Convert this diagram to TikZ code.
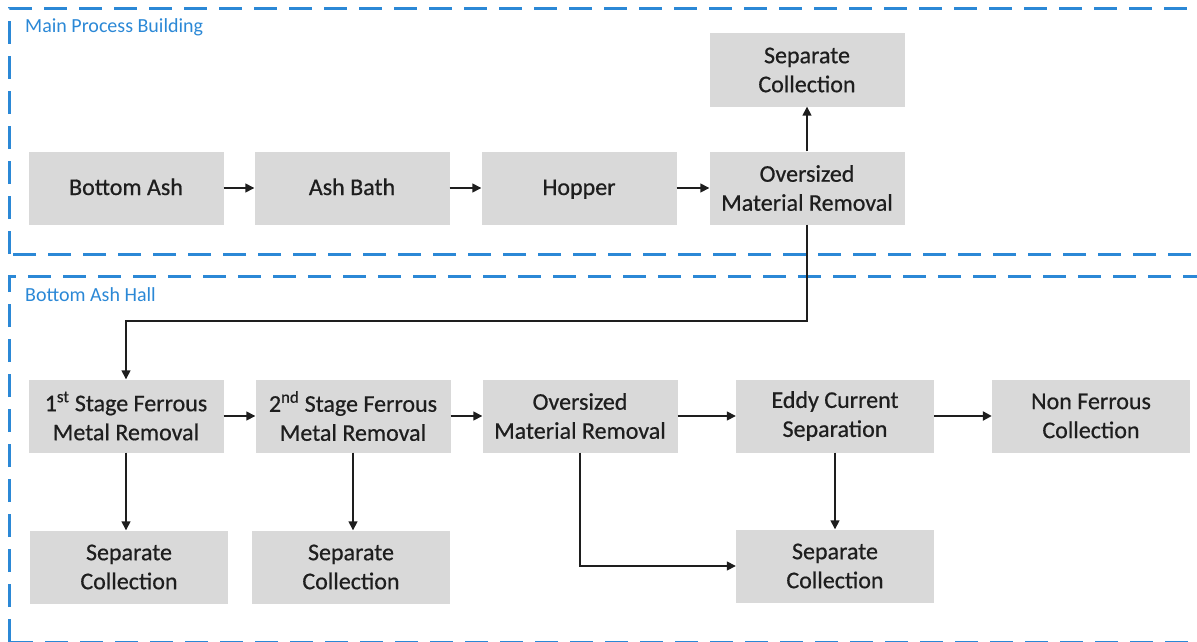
\documentclass[tikz,border=0pt]{standalone}
\usepackage{fontspec}
\setmainfont{Carlito}
\newfontfamily\boxfont{Carlito}[RawFeature={embolden=0.6}]
\usetikzlibrary{arrows.meta}
\definecolor{zoneblue}{RGB}{43,136,214}
\definecolor{boxgrey}{RGB}{217,217,217}
\definecolor{inkgrey}{RGB}{30,30,30}
\tikzset{stagebox/.style={fill=boxgrey, text=inkgrey, align=center, minimum width=195pt, minimum height=73pt, inner sep=0pt, font=\boxfont\fontsize{24}{29}\selectfont}}
\tikzset{oneline/.style={text height=17pt, text depth=3pt}}
\tikzset{flowarrow/.style={-{Triangle[length=9pt,width=9pt]}, line width=1.5pt, draw=inkgrey}}
\tikzset{zone/.style={draw=zoneblue, line width=3pt, dash pattern=on 23pt off 12pt}}
\tikzset{zonelabel/.style={anchor=base west, text=zoneblue, inner sep=0pt, font=\fontsize{20}{22}\selectfont}}

\begin{document}
\begin{tikzpicture}[x=1pt, y=-1pt]
\useasboundingbox (0,0) rectangle (1197,642);
\clip (0,0) rectangle (1197,642);
% building zones
\draw[zone] (9,254) rectangle (1230,9);
\draw[zone] (9,642) rectangle (1230,276);
\node[zonelabel] (mpb) at (25,33) {Main Process Building};
\node[zonelabel] (bah) at (25,301) {Bottom Ash Hall};
% main process building
\node[stagebox, oneline] (ash) at (126,188) {Bottom Ash};
\node[stagebox, oneline] (bath) at (352,188) {Ash Bath};
\node[stagebox, oneline] (hop) at (579,188) {Hopper};
\node[stagebox] (ovs1) at (807,188) {Oversized\\Material Removal};
\node[stagebox] (sc0) at (807,70) {Separate\\Collection};
% bottom ash hall
\node[stagebox] (fe1) at (126,416) {1\textsuperscript{st} Stage Ferrous\\Metal Removal};
\node[stagebox] (fe2) at (353,416) {2\textsuperscript{nd} Stage Ferrous\\Metal Removal};
\node[stagebox] (ovs2) at (580,416) {Oversized\\Material Removal};
\node[stagebox, minimum width=198pt] (eddy) at (835,416) {Eddy Current\\Separation};
\node[stagebox, minimum width=198pt] (nonfe) at (1091,416) {Non Ferrous\\Collection};
\node[stagebox, minimum width=198pt] (sc1) at (129,567) {Separate\\Collection};
\node[stagebox, minimum width=198pt] (sc2) at (351,567) {Separate\\Collection};
\node[stagebox, minimum width=198pt] (sc3) at (835,566) {Separate\\Collection};
\coordinate (drop) at (807,321);
% flows
\draw[flowarrow] (ash) -- (bath);
\draw[flowarrow] (bath) -- (hop);
\draw[flowarrow] (hop) -- (ovs1);
\draw[flowarrow] (ovs1) -- (sc0);
\draw[flowarrow] (ovs1.south) -- (drop) -| (fe1.north);
\draw[flowarrow] (fe1) -- (fe2);
\draw[flowarrow] (fe2) -- (ovs2);
\draw[flowarrow] (ovs2) -- (eddy);
\draw[flowarrow, line width=2.5pt] (eddy) -- (nonfe);
\draw[flowarrow] (fe1.south) -- (fe1.south |- sc1.north);
\draw[flowarrow] (fe2) -- (fe2 |- sc2.north);
\draw[flowarrow] (eddy) -- (sc3);
\draw[flowarrow] (ovs2.south) |- (sc3.west);
\end{tikzpicture}
\end{document}
